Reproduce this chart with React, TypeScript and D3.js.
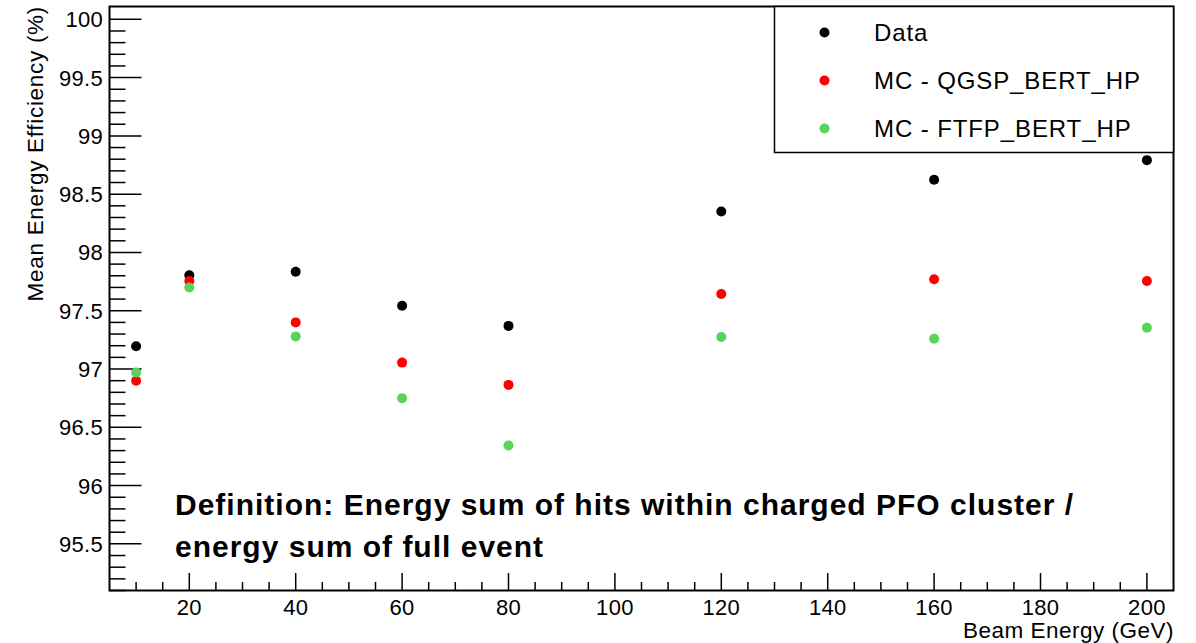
import React from "react";
import * as d3 from "d3";

const energies = [10, 20, 40, 60, 80, 120, 160, 200];
const dataEff = [97.195, 97.805, 97.835, 97.543, 97.37, 98.352, 98.623, 98.792];
const qgspEff = [96.9, 97.755, 97.4, 97.055, 96.864, 97.643, 97.77, 97.755];
const ftfpEff = [96.97, 97.7, 97.28, 96.75, 96.344, 97.275, 97.26, 97.355];

const seriesNames = ["Data", "MC - QGSP_BERT_HP", "MC - FTFP_BERT_HP"];
const seriesColors = ["#000000", "#ff0000", "#59d45a"];
const xTickValues = [20, 40, 60, 80, 100, 120, 140, 160, 180, 200];
const yTickValues = [95.5, 96, 96.5, 97, 97.5, 98, 98.5, 99, 99.5, 100];
const noteLines = [
  "Definition: Energy sum of hits within charged PFO cluster /",
  "energy sum of full event",
];

const W = 1196;
const H = 643;
const L = 109.5, R = 1173.5, T = 6.5, B = 590.5;
const FONT = "'Liberation Sans', Arial, Helvetica, sans-serif";

export default function App() {
  const x = d3.scaleLinear().domain([5, 205]).range([L, R]);
  const y = d3.scaleLinear().domain([95.1, 100.11]).range([B, T]);

  const xMinor = d3.range(10, 205, 5).filter((v) => v % 20 !== 0);
  const yMinor = d3
    .range(951, 1001, 1)
    .map((v) => v / 10)
    .filter((v) => Math.abs(v * 2 - Math.round(v * 2)) > 1e-6);

  const series = [dataEff, qgspEff, ftfpEff];
  const fmtY = (v: number) => (Number.isInteger(v) ? String(v) : v.toFixed(1));

  const legL = 774.5, legT = T, legB = 152.5;
  const legRows = [32.5, 80.5, 128.5];

  return (
    <svg
      width={W}
      height={H}
      style={{ position: "absolute", left: 0, top: 0, background: "#fff" }}
      fontFamily={FONT}
    >
      <rect x={0} y={0} width={W} height={H} fill="#fff" />
      {xMinor.map((v) => (
        <line key={"xm" + v} x1={x(v)} x2={x(v)} y1={B} y2={B - 8.5} stroke="#000" strokeWidth={1.5} />
      ))}
      {xTickValues.map((v) => (
        <g key={"xt" + v}>
          <line x1={x(v)} x2={x(v)} y1={B} y2={B - 17.5} stroke="#000" strokeWidth={1.5} />
          <text x={x(v)} y={615} textAnchor="middle" fontSize={22} letterSpacing={0.3}>
            {v}
          </text>
        </g>
      ))}
      {yMinor.map((v) => (
        <line key={"ym" + v} x1={L} x2={L + 16} y1={y(v)} y2={y(v)} stroke="#000" strokeWidth={1.5} />
      ))}
      {yTickValues.map((v) => (
        <g key={"yt" + v}>
          <line x1={L} x2={L + 32} y1={y(v)} y2={y(v)} stroke="#000" strokeWidth={1.5} />
          <text x={103} y={y(v)} dy="0.36em" textAnchor="end" fontSize={22} letterSpacing={0.3}>
            {fmtY(v)}
          </text>
        </g>
      ))}
      <rect x={L} y={T} width={R - L} height={B - T} fill="none" stroke="#000" strokeWidth={2} />

      {series.map((vals, si) =>
        vals.map((v, i) => (
          <circle key={si + "-" + i} cx={x(energies[i])} cy={y(v)} r={5} fill={seriesColors[si]} />
        ))
      )}

      <rect x={legL} y={legT} width={R - legL} height={legB - legT} fill="#fff" stroke="#000" strokeWidth={1.5} />
      {seriesNames.map((name, i) => (
        <g key={name}>
          <circle cx={824.5} cy={legRows[i]} r={5} fill={seriesColors[i]} />
          <text x={874} y={legRows[i]} dy="0.36em" fontSize={24} letterSpacing={0.9}>
            {name}
          </text>
        </g>
      ))}

      {noteLines.map((line, i) => (
        <text key={i} x={175} y={515 + i * 41.5} fontSize={30} fontWeight="bold" letterSpacing={1}>
          {line}
        </text>
      ))}

      <text x={1174} y={638} textAnchor="end" fontSize={22.5} letterSpacing={0.5}>
        Beam Energy (GeV)
      </text>
      <text transform={`translate(42.5,6) rotate(-90)`} textAnchor="end" fontSize={22.5} letterSpacing={0.7}>
        Mean Energy Efficiency (%)
      </text>
    </svg>
  );
}
